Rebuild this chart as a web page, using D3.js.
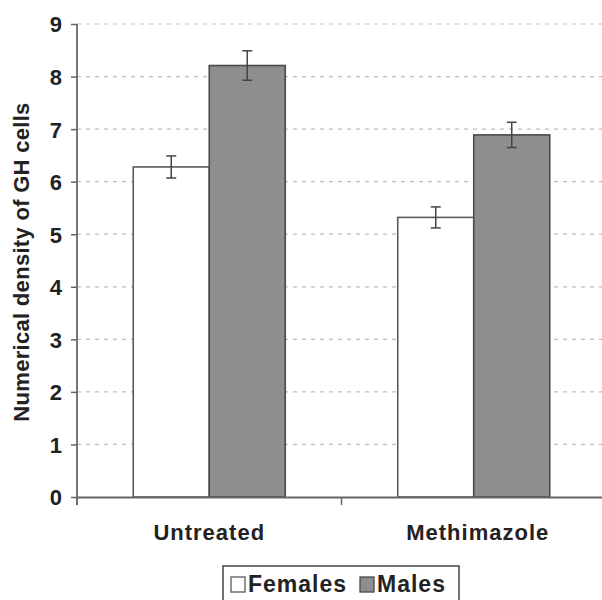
<!DOCTYPE html>
<html>
<head>
<meta charset="utf-8">
<script src="https://cdn.jsdelivr.net/npm/d3@7"></script>
<style>
  body { margin: 0; background: #fff; }
  text { font-family: "Liberation Sans", Arial, sans-serif; font-weight: bold; fill: #222; }
</style>
</head>
<body>
<div id="wrapper"></div>
<script>
// values
const groups = ["Untreated", "Methimazole"];
const series = ["Females", "Males"];
const femaleValues = [6.28, 5.32];
const maleValues = [8.21, 6.89];
const femaleErrors = [0.21, 0.2];
const maleErrors = [0.28, 0.24];
const yTicks = [0, 1, 2, 3, 4, 5, 6, 7, 8, 9];

const seriesValues = { Females: femaleValues, Males: maleValues };
const seriesErrors = { Females: femaleErrors, Males: maleErrors };
const seriesFill = { Females: "#ffffff", Males: "#8e8e8e" };
const seriesStroke = { Females: "#5a5a5a", Males: "#4a4a4a" };

const dimensions = {
  width: 602,
  height: 600,
  margin: { top: 24, right: -4, bottom: 103, left: 77 },
};
dimensions.boundedWidth = dimensions.width - dimensions.margin.left - dimensions.margin.right;
dimensions.boundedHeight = dimensions.height - dimensions.margin.top - dimensions.margin.bottom;

const wrapper = d3.select("#wrapper")
  .append("svg")
  .attr("width", dimensions.width)
  .attr("height", dimensions.height);

const bounds = wrapper.append("g")
  .attr("transform", `translate(${dimensions.margin.left},${dimensions.margin.top})`);

// scales
const x0 = d3.scaleBand().domain(groups).range([0, dimensions.boundedWidth]);
const x1 = d3.scaleBand().domain(series).range([0, x0.bandwidth()])
  .paddingInner(0).paddingOuter(0.74);
const yScale = d3.scaleLinear().domain([0, 9]).range([dimensions.boundedHeight, 0]);

// gridlines
bounds.append("g")
  .selectAll("line")
  .data(yTicks.filter(d => d > 0))
  .join("line")
  .attr("x1", 0)
  .attr("x2", dimensions.boundedWidth)
  .attr("y1", d => yScale(d))
  .attr("y2", d => yScale(d))
  .attr("stroke", "#bdbdbd")
  .attr("stroke-width", 1.2)
  .attr("stroke-dasharray", "4,5");

// bars
const groupG = bounds.selectAll(".group")
  .data(groups)
  .join("g")
  .attr("class", "group")
  .attr("transform", d => `translate(${x0(d)},0)`);

groupG.selectAll("rect")
  .data((g, gi) => series.map(s => ({ s, v: seriesValues[s][gi] })))
  .join("rect")
  .attr("x", d => x1(d.s))
  .attr("y", d => yScale(d.v))
  .attr("width", x1.bandwidth())
  .attr("height", d => yScale(0) - yScale(d.v))
  .attr("fill", d => seriesFill[d.s])
  .attr("stroke", d => seriesStroke[d.s])
  .attr("stroke-width", 1.6);

// error bars
const errs = groupG.selectAll(".err")
  .data((g, gi) => series.map(s => ({ s, v: seriesValues[s][gi], e: seriesErrors[s][gi] })))
  .join("g")
  .attr("class", "err")
  .attr("stroke", "#444")
  .attr("stroke-width", 1.5);
const cx = d => x1(d.s) + x1.bandwidth() / 2;
errs.append("line")
  .attr("x1", cx).attr("x2", cx)
  .attr("y1", d => yScale(d.v + d.e)).attr("y2", d => yScale(d.v - d.e));
errs.append("line")
  .attr("x1", d => cx(d) - 5).attr("x2", d => cx(d) + 5)
  .attr("y1", d => yScale(d.v + d.e)).attr("y2", d => yScale(d.v + d.e));
errs.append("line")
  .attr("x1", d => cx(d) - 5).attr("x2", d => cx(d) + 5)
  .attr("y1", d => yScale(d.v - d.e)).attr("y2", d => yScale(d.v - d.e));

// y axis
const yAxis = bounds.append("g")
  .call(d3.axisLeft(yScale).tickValues(yTicks).tickSize(6).tickPadding(9));
yAxis.select(".domain").attr("stroke", "#777").attr("stroke-width", 2)
  .attr("d", `M0,0V${dimensions.boundedHeight + 8}`);
yAxis.selectAll(".tick line").attr("stroke", "#666").attr("stroke-width", 1.5);
yAxis.selectAll(".tick text").style("font-size", "22px").attr("fill", "#222")
  .attr("dy", "0.36em");

// x axis
const xAxis = bounds.append("g")
  .attr("transform", `translate(0,${dimensions.boundedHeight})`)
  .call(d3.axisBottom(x0).tickSize(0).tickPadding(27));
xAxis.select(".domain").attr("stroke", "#666").attr("stroke-width", 1.8);
xAxis.selectAll(".tick text").style("font-size", "22px").style("letter-spacing", "1px")
  .attr("fill", "#222");
xAxis.selectAll(".tick").filter(d => d === "Methimazole").select("text").attr("dx", 4);
xAxis.selectAll(".sep")
  .data([x0.range()[0], x0(groups[1]), x0.range()[1]])
  .join("line")
  .attr("class", "sep")
  .attr("x1", d => d).attr("x2", d => d)
  .attr("y1", 0).attr("y2", 8)
  .attr("stroke", "#666").attr("stroke-width", 1.5);

// y axis label
wrapper.append("text")
  .attr("transform", `translate(29,${dimensions.margin.top + 238}) rotate(-90)`)
  .attr("text-anchor", "middle")
  .style("font-size", "22px")
  .style("letter-spacing", "0.3px")
  .text("Numerical density of GH cells");

// legend
const legend = wrapper.append("g").attr("transform", "translate(223,566)");
legend.append("rect")
  .attr("width", 236).attr("height", 40)
  .attr("fill", "#fff").attr("stroke", "#444").attr("stroke-width", 1.5);
const legendX = { Females: 8, Males: 137 };
const items = legend.selectAll(".item")
  .data(series)
  .join("g")
  .attr("class", "item")
  .attr("transform", d => `translate(${legendX[d]},11)`);
items.append("rect")
  .attr("width", 14).attr("height", 15)
  .attr("fill", d => seriesFill[d])
  .attr("stroke", d => seriesStroke[d])
  .attr("stroke-width", 1.3);
items.append("text")
  .attr("x", 17).attr("y", 15)
  .style("font-size", "23px")
  .style("letter-spacing", "1px")
  .text(d => d);
</script>
</body>
</html>
